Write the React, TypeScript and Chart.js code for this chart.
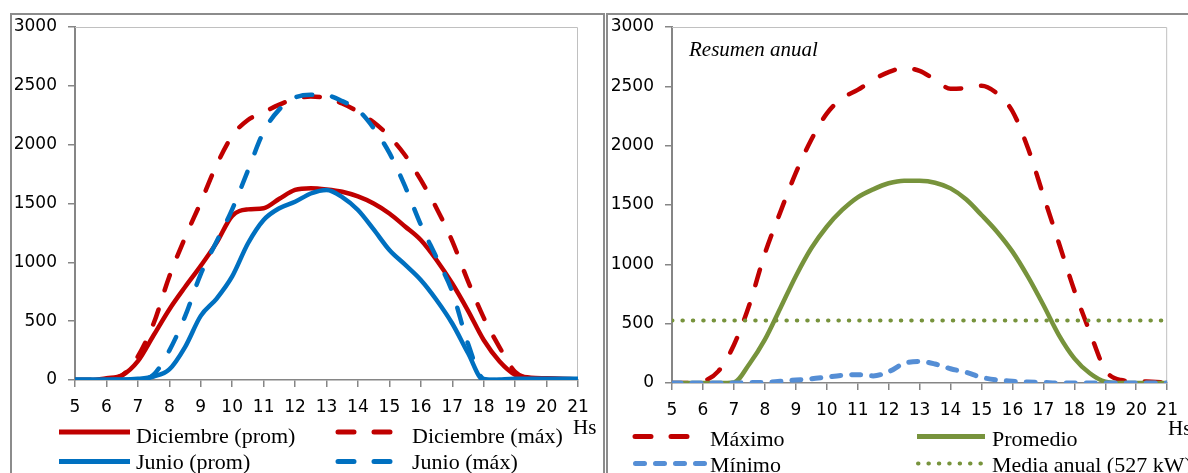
import React, { useEffect, useRef } from 'react';
import { Chart, registerables } from 'chart.js';

Chart.register(...registerables);

// ---------- data ----------
const HOURS = [5, 5.5, 6, 6.5, 7, 7.5, 8, 8.5, 9, 9.5, 10, 10.5, 11, 11.5, 12, 12.5, 13, 13.5, 14, 14.5, 15, 15.5, 16, 16.5, 17, 17.5, 18, 18.5, 19, 19.5, 20, 20.5, 21];
const X_MIN = 5;
const X_MAX = 21;
const X_STEP = 1;
const Y_MIN = 0;
const Y_MAX = 3000;
const Y_STEP = 500;

const DIC_PROM = [0, 0, 15, 40, 160, 380, 600, 790, 970, 1165, 1395, 1450, 1460, 1540, 1615, 1630, 1620, 1600, 1560, 1500, 1415, 1305, 1190, 1020, 820, 590, 340, 160, 45, 20, 15, 10, 5];
const DIC_MAX = [0, 0, 10, 40, 200, 480, 880, 1210, 1510, 1825, 2075, 2210, 2275, 2340, 2390, 2410, 2395, 2350, 2280, 2190, 2070, 1910, 1700, 1460, 1180, 840, 530, 280, 70, 15, 10, 5, 0];
const JUN_PROM = [5, 5, 5, 5, 10, 30, 90, 280, 545, 690, 880, 1160, 1360, 1460, 1515, 1585, 1615, 1555, 1445, 1280, 1105, 980, 850, 680, 480, 230, 0, 5, 10, 10, 10, 10, 10];
const JUN_MAX = [0, 0, 0, 0, 0, 45, 250, 540, 900, 1175, 1450, 1780, 2110, 2300, 2400, 2425, 2420, 2370, 2295, 2140, 1930, 1645, 1320, 1040, 750, 310, 10, 0, 0, 0, 0, 0, 0];

const MAXIMO = [0, 0, 15, 100, 320, 660, 1090, 1440, 1770, 2050, 2270, 2400, 2470, 2555, 2620, 2655, 2630, 2555, 2480, 2485, 2505, 2440, 2290, 1980, 1580, 1180, 780, 430, 110, 25, 15, 10, 5];
const PROMEDIO = [0, 0, 0, 0, 5, 160, 365, 630, 900, 1135, 1317, 1458, 1565, 1632, 1683, 1705, 1704, 1688, 1640, 1548, 1416, 1275, 1107, 896, 657, 404, 208, 82, 11, 0, 0, 0, 0];
const MINIMO = [0, 0, 0, 0, 0, 3, 5, 15, 25, 35, 50, 65, 70, 60, 95, 165, 182, 160, 120, 90, 48, 25, 15, 8, 5, 0, 0, 0, 0, 0, 0, 0, 0];
const MEDIA_ANUAL_KW = 527;

const LEFT_LABELS = ['Diciembre (prom)', 'Diciembre (máx)', 'Junio (prom)', 'Junio (máx)'];
const RIGHT_LABELS = ['Máximo', 'Promedio', 'Mínimo', 'Media anual (527 kW)'];
const RIGHT_TITLE = 'Resumen anual';
const X_UNIT = 'Hs';

// ---------- styles ----------
const RED = '#C00000';
const BLUE = '#0070C0';
const GREEN = '#77933C';
const LIGHT_BLUE = '#558ED5';
const AXIS = '#868686';
const PLOT_BORDER = '#C0C0C0';
const FRAME = '#8C8C8C';
const TICK_FONT = { family: '"DejaVu Sans"', size: 17 };
const LEGEND_FONT = '22px "Liberation Serif"';
const TITLE_FONT = 'italic 21px "Liberation Serif"';

type LineStyle = { color: string; width: number; dash: number[]; cap: CanvasLineCap };
const solid = (c: string): LineStyle => ({ color: c, width: 4.5, dash: [], cap: 'butt' });
const longDash = (c: string): LineStyle => ({ color: c, width: 4.5, dash: [16, 20], cap: 'round' });
const SHORT_DASH: LineStyle = { color: LIGHT_BLUE, width: 5, dash: [9, 11], cap: 'round' };
const DOTS: LineStyle = { color: GREEN, width: 4, dash: [0.5, 9.9], cap: 'round' };

const pts = (vals: number[]) => HOURS.map((h, i) => ({ x: h, y: vals[i] }));
function dataset(label: string, vals: number[], st: LineStyle) {
  return {
    label,
    data: pts(vals),
    borderColor: st.color,
    backgroundColor: st.color,
    borderWidth: st.width,
    borderDash: st.dash,
    borderCapStyle: st.cap,
    borderJoinStyle: 'round',
    pointRadius: 0,
    pointHoverRadius: 0,
    fill: false,
    cubicInterpolationMode: 'monotone',
  };
}

type LegendItem = { label: string; st: LineStyle; x1: number; x2: number; y: number; tx: number; ty: number };
type TextItem = { text: string; font: string; x: number; y: number };
type PanelDef = {
  canvasLeft: number;
  canvasWidth: number;
  area: { left: number; top: number; right: number; bottom: number };
  datasets: any[];
  legend: LegendItem[];
  texts: TextItem[];
};

const LEFT_PANEL: PanelDef = {
  canvasLeft: 0,
  canvasWidth: 605,
  area: { left: 75, top: 27, right: 578, bottom: 380 },
  datasets: [
    dataset(LEFT_LABELS[3], JUN_MAX, longDash(BLUE)),
    dataset(LEFT_LABELS[2], JUN_PROM, solid(BLUE)),
    dataset(LEFT_LABELS[1], DIC_MAX, longDash(RED)),
    dataset(LEFT_LABELS[0], DIC_PROM, solid(RED)),
  ],
  legend: [
    { label: LEFT_LABELS[0], st: { ...solid(RED), width: 5 }, x1: 59, x2: 130, y: 432, tx: 136, ty: 443 },
    { label: LEFT_LABELS[1], st: { ...longDash(RED), width: 5 }, x1: 338, x2: 390, y: 432, tx: 412, ty: 443 },
    { label: LEFT_LABELS[2], st: { ...solid(BLUE), width: 5 }, x1: 59, x2: 130, y: 461.5, tx: 136, ty: 469 },
    { label: LEFT_LABELS[3], st: { ...longDash(BLUE), width: 5 }, x1: 338, x2: 390, y: 461.5, tx: 412, ty: 469 },
  ],
  texts: [{ text: X_UNIT, font: '21px "Liberation Serif"', x: 573, y: 434 }],
};

const RIGHT_PANEL: PanelDef = {
  canvasLeft: 605,
  canvasWidth: 583,
  area: { left: 672, top: 27, right: 1174, bottom: 383 },
  datasets: [
    dataset(RIGHT_LABELS[2], MINIMO, SHORT_DASH),
    dataset(RIGHT_LABELS[3], HOURS.map(() => MEDIA_ANUAL_KW), DOTS),
    dataset(RIGHT_LABELS[1], PROMEDIO, solid(GREEN)),
    dataset(RIGHT_LABELS[0], MAXIMO, longDash(RED)),
  ],
  legend: [
    { label: RIGHT_LABELS[0], st: { ...longDash(RED), width: 5 }, x1: 635, x2: 687, y: 436.5, tx: 710, ty: 446 },
    { label: RIGHT_LABELS[1], st: { ...solid(GREEN), width: 5 }, x1: 917, x2: 985, y: 436.5, tx: 992, ty: 446 },
    { label: RIGHT_LABELS[2], st: SHORT_DASH, x1: 635.5, x2: 705, y: 463.5, tx: 710, ty: 471.5 },
    { label: RIGHT_LABELS[3], st: DOTS, x1: 918, x2: 982, y: 463.5, tx: 992, ty: 471.5 },
  ],
  texts: [
    { text: RIGHT_TITLE, font: TITLE_FONT, x: 689, y: 56 },
    { text: X_UNIT, font: '21px "Liberation Serif"', x: 1168, y: 435 },
  ],
};

const plainNumber = (v: any) => String(v);

function PanelChart({ def }: { def: PanelDef }) {
  const ref = useRef<HTMLCanvasElement>(null);
  useEffect(() => {
    const canvas = ref.current!;
    const off = def.canvasLeft;
    const a = def.area;
    const decor = {
      id: 'decor',
      beforeDatasetsDraw(chart: any) {
        const ctx = chart.ctx;
        const ca = chart.chartArea;
        ctx.save();
        ctx.strokeStyle = PLOT_BORDER;
        ctx.lineWidth = 1;
        ctx.beginPath();
        ctx.moveTo(ca.left, ca.top + 0.5);
        ctx.lineTo(ca.right - 0.5, ca.top + 0.5);
        ctx.lineTo(ca.right - 0.5, ca.bottom);
        ctx.stroke();
        ctx.restore();
      },
      afterDraw(chart: any) {
        const ctx = chart.ctx;
        ctx.save();
        for (const it of def.legend) {
          ctx.strokeStyle = it.st.color;
          ctx.lineWidth = it.st.width;
          ctx.lineCap = it.st.cap;
          ctx.setLineDash(it.st.dash);
          ctx.beginPath();
          ctx.moveTo(it.x1 - off, it.y);
          ctx.lineTo(it.x2 - off, it.y);
          ctx.stroke();
          ctx.setLineDash([]);
          ctx.font = LEGEND_FONT;
          ctx.fillStyle = '#000';
          ctx.textAlign = 'left';
          ctx.textBaseline = 'alphabetic';
          ctx.fillText(it.label, it.tx - off, it.ty);
        }
        for (const t of def.texts) {
          ctx.font = t.font;
          ctx.fillStyle = '#000';
          ctx.textAlign = 'left';
          ctx.textBaseline = 'alphabetic';
          ctx.fillText(t.text, t.x - off, t.y);
        }
        ctx.restore();
      },
    };
    const chart = new Chart(canvas, {
      type: 'line',
      data: { datasets: def.datasets as any },
      options: {
        animation: false,
        responsive: false,
        events: [],
        layout: {
          autoPadding: false,
          padding: { left: 0, top: a.top, right: off + def.canvasWidth - a.right, bottom: 0 },
        } as any,
        plugins: { legend: { display: false }, tooltip: { enabled: false }, title: { display: false } },
        scales: {
          x: {
            type: 'linear',
            min: X_MIN,
            max: X_MAX,
            afterFit: (s: any) => { s.height = 473 - a.bottom; },
            ticks: { stepSize: X_STEP, autoSkip: false, maxRotation: 0, font: TICK_FONT, color: '#000', padding: 10, callback: plainNumber },
            grid: { drawOnChartArea: false, drawTicks: true, tickLength: 7, color: AXIS, lineWidth: 1.5 },
            border: { display: true, color: AXIS, width: 1.5 },
          },
          y: {
            type: 'linear',
            min: Y_MIN,
            max: Y_MAX,
            afterFit: (s: any) => { s.width = a.left - off; },
            ticks: { stepSize: Y_STEP, font: TICK_FONT, color: '#000', padding: 11, callback: plainNumber },
            grid: { drawOnChartArea: false, drawTicks: true, tickLength: 7, color: AXIS, lineWidth: 1.5 },
            border: { display: true, color: AXIS, width: 2 },
          },
        },
      } as any,
      plugins: [decor],
    });
    return () => chart.destroy();
  }, [def]);
  return (
    <canvas
      ref={ref}
      width={def.canvasWidth}
      height={473}
      style={{ position: 'absolute', left: def.canvasLeft, top: 0, width: def.canvasWidth, height: 473 }}
    />
  );
}

export default function App() {
  return (
    <div style={{ position: 'fixed', left: 0, top: 0, width: 1188, height: 473, overflow: 'hidden', background: '#fff' }}>
      <PanelChart def={LEFT_PANEL} />
      <PanelChart def={RIGHT_PANEL} />
      <div style={{ position: 'absolute', left: 10, top: 13, width: 595, height: 480, border: `2px solid ${FRAME}`, boxSizing: 'border-box', pointerEvents: 'none' }} />
      <div style={{ position: 'absolute', left: 606, top: 13, width: 600, height: 480, border: `2px solid ${FRAME}`, boxSizing: 'border-box', pointerEvents: 'none' }} />
    </div>
  );
}
